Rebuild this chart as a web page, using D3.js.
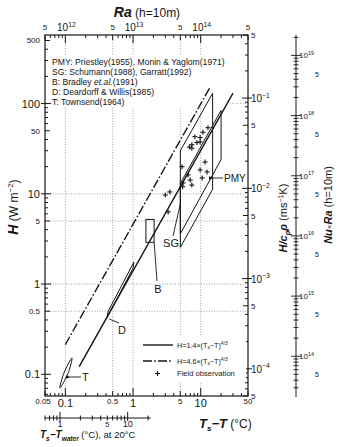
<!DOCTYPE html>
<html><head><meta charset="utf-8">
<script src="https://cdn.jsdelivr.net/npm/d3@7"></script>
<style>
html,body{margin:0;padding:0;background:#fff;}
svg{display:block;font-family:"Liberation Sans",Arial,Helvetica,sans-serif;}
</style></head><body>
<svg id="chart" width="350" height="447"></svg>
<script>
// ---- axis domains and conversions ----
const dTDomain = [0.05, 50];          // Ts - T (°C)
const hDomain = [0.0575, 575];        // H (W m^-2)
const rhoCp = 1150;                   // H / (cp rho)
const raPerK = 1e13;                  // Ra (h=10m) per °C
const nuRaCoef = 1.585e15;            // Nu×Ra = coef · H^1.5
const nuRaExp = 1.5;
const waterFactor = 12;               // Ts - Twater equivalent at 20°C

// ---- power-law lines H = c (Ts-T)^(4/3) ----
const lineCoefs = [1.4, 4.6];
const lineExp = 4 / 3;
const lineStart = [0.16, 0.1];
const lineEnd = [30, 14];

// ---- field observations ----
const obsDT = [12.8, 10.8, 9.8, 8.8, 7.4, 8.2, 7.4, 5.3, 9.8, 11.6, 12.4, 10.5, 6.5, 5.5, 7.4, 3.0, 3.5, 3.3, 7.0, 9.8, 6.8, 5.4];
const obsH  = [54, 48, 42, 37, 32, 43, 35, 20, 18.4, 22.5, 17.5, 15, 16.2, 13.2, 12.5, 9.7, 10.5, 6.3, 14.2, 37.6, 33, 12];

// ---- literature ranges ----
const pmyDT = [5, 20, 20, 5];
const pmyH  = [13, 84, 24, 3.6];
const sgDT  = [5, 15, 15, 5];
const sgH   = [30, 130, 11.2, 2.55];
const bDT   = [1.55, 2.05];
const bH    = [2.9, 5.2];
const dDT   = [0.41, 0.43, 1.03, 1.0];
const dH    = [0.42, 0.50, 1.75, 1.5];
const tDT   = [0.083, 0.096, 0.1255, 0.109];
const tH    = [0.0706, 0.105, 0.152, 0.1017];

// ---- grid and labels ----
const gridDT = [0.1, 0.5, 1, 5, 10];
const gridH = [0.5, 1, 5, 10, 100];
const hBigLabels = [0.1, 1, 10, 100];
const hSmallLabels = [0.5, 5, 50, 500];
const dTBigLabels = [0.1, 1, 10];
const dTSmallLabels = [0.05, 0.5, 5, 50];
const raExps = [12, 13, 14];
const raFives = [5e11, 5e12, 5e13, 5e14];
const fluxExps = [-1, -2, -3, -4];
const fluxFives = [5e-1, 5e-2, 5e-3, 5e-4, 5e-5];
const nuRaExps = [19, 18, 17, 16, 15, 14];
const nuRaFives = [5e18, 5e17, 5e16, 5e15, 5e14, 5e13];
const waterLabels = [1, 5, 10];
const waterDomain = [0.6, 22];
const citations = [
  "PMY: Priestley(1955), Monin & Yaglom(1971)",
  "SG: Schumann(1988), Garratt(1992)",
  "B: Bradley |et.al.|(1991)",
  "D: Deardorff & Willis(1985)",
  "T: Townsend(1964)"
];

const ink = "#161616";
const svg = d3.select("#chart");
const L = 45, R = 248, T = 35, B = 396;

const x = d3.scaleLog().domain(dTDomain).range([L, R]);
const y = d3.scaleLog().domain(hDomain).range([B, T]);
const xRa = d3.scaleLog().domain(dTDomain.map(d => d * raPerK)).range([L, R]);
const yFlux = d3.scaleLog().domain(hDomain.map(h => h / rhoCp)).range([B, T]);
const yNuRa = d3.scaleLog().domain(hDomain.map(h => nuRaCoef * Math.pow(h, nuRaExp))).range([B, T]);
const xWater = d3.scaleLog().domain(dTDomain.map(d => d * waterFactor)).range([L, R]);

const isDecade = v => Math.abs(Math.log10(v) - Math.round(Math.log10(v))) < 1e-6;
const isFive = v => Math.abs(v / Math.pow(10, Math.floor(Math.log10(v) + 1e-9)) - 5) < 1e-6;

const defs = svg.append("defs");
defs.append("marker").attr("id", "arr").attr("viewBox", "0 0 10 10").attr("refX", 1).attr("refY", 5)
  .attr("markerWidth", 5).attr("markerHeight", 5).attr("orient", "auto-start-reverse")
  .append("path").attr("d", "M10,1 L0,5 L10,9 Z").attr("fill", ink);

// ---- grid ----
const grid = svg.append("g").attr("stroke", "#8a8a8a").attr("stroke-width", 0.8).attr("stroke-dasharray", "1,1.6");
grid.selectAll(".gv").data(gridDT).join("line").attr("x1", d => x(d)).attr("x2", d => x(d)).attr("y1", T).attr("y2", B);
grid.selectAll(".gh").data(gridH).join("line").attr("y1", d => y(d)).attr("y2", d => y(d)).attr("x1", L).attr("x2", R);

// ---- citation block ----
svg.append("rect").attr("x", 50).attr("y", 55).attr("width", 180).attr("height", 52).attr("fill", "#fff");
const cit = svg.append("g").attr("font-size", 8.6).attr("fill", ink);
citations.forEach((c, i) => {
  const t = cit.append("text").attr("x", 52).attr("y", 64.5 + i * 10.2);
  c.split("|").forEach((seg, j) => t.append("tspan").attr("font-style", j % 2 ? "italic" : "normal").text(seg));
});

// ---- frame ----
svg.append("rect").attr("x", L).attr("y", T).attr("width", R - L).attr("height", B - T)
  .attr("fill", "none").attr("stroke", ink).attr("stroke-width", 1.2);

// ---- ticks ----
const tk = svg.append("g").attr("stroke", ink).attr("stroke-width", 1);
y.ticks().forEach(v => {
  const len = isDecade(v) ? 6 : isFive(v) ? 5 : 3;
  tk.append("line").attr("x1", isDecade(v) ? L - 4 : L).attr("x2", L + len).attr("y1", y(v)).attr("y2", y(v));
});
yFlux.ticks().forEach(v => {
  const len = isDecade(v) ? 6 : isFive(v) ? 5 : 3;
  tk.append("line").attr("x1", R - len).attr("x2", isDecade(v) ? R + 4 : R).attr("y1", yFlux(v)).attr("y2", yFlux(v));
});
x.ticks().forEach(v => {
  const len = isDecade(v) ? 8 : isFive(v) ? 5 : 3;
  tk.append("line").attr("x1", x(v)).attr("x2", x(v)).attr("y1", B).attr("y2", B - len);
});
xRa.ticks().forEach(v => {
  const len = isDecade(v) ? 8 : isFive(v) ? 5 : 3;
  tk.append("line").attr("x1", xRa(v)).attr("x2", xRa(v)).attr("y1", T).attr("y2", T + len);
});

// ---- tick labels ----
const lab = svg.append("g").attr("fill", ink);
hBigLabels.forEach(v => lab.append("text").attr("x", 40).attr("y", y(v) + 4).attr("text-anchor", "end").attr("font-size", 11).text(v));
hSmallLabels.forEach(v => lab.append("text").attr("x", 40).attr("y", y(v) + 3).attr("text-anchor", "end").attr("font-size", 8).text(v));
dTBigLabels.forEach(v => lab.append("text").attr("x", x(v)).attr("y", 407).attr("text-anchor", "middle").attr("font-size", 11).text(v));
dTSmallLabels.forEach(v => lab.append("text").attr("x", x(v) - (v === 0.05 ? 2 : 0)).attr("y", 404).attr("text-anchor", "middle").attr("font-size", 8).text(v));

function pow10(g, px, py, exp, size, anchor) {
  const t = g.append("text").attr("x", px).attr("y", py).attr("font-size", size).attr("text-anchor", anchor);
  t.append("tspan").text("10");
  t.append("tspan").attr("dy", -size * 0.45).attr("font-size", size * 0.68).text(String(exp).replace("-", "\u2212"));
  return t;
}
raExps.forEach(e => pow10(lab, xRa(Math.pow(10, e)) + 1, 31, e, 10, "middle"));
raFives.forEach(v => lab.append("text").attr("x", xRa(v)).attr("y", 30).attr("text-anchor", "middle").attr("font-size", 8).text("5"));
fluxExps.forEach(e => pow10(lab, 251, yFlux(Math.pow(10, e)) + 4, e, 10, "start"));
fluxFives.forEach(v => lab.append("text").attr("x", 251).attr("y", yFlux(v) + 3).attr("font-size", 8).text("5"));

// ---- Nu×Ra axis ----
const nx = 296;
const nu = svg.append("g");
nu.append("line").attr("x1", nx).attr("x2", nx).attr("y1", T).attr("y2", B + 1).attr("stroke", ink).attr("stroke-width", 1);
yNuRa.ticks().forEach(v => {
  const half = isDecade(v) ? 5 : 2.5;
  nu.append("line").attr("x1", nx - half).attr("x2", nx + half).attr("y1", yNuRa(v)).attr("y2", yNuRa(v))
    .attr("stroke", ink).attr("stroke-width", 0.9);
});
nuRaExps.forEach(e => pow10(nu.append("g").attr("fill", ink), 299, yNuRa(Math.pow(10, e)) + 3, e, 8, "start"));
nuRaFives.forEach(v => nu.append("text").attr("x", 315).attr("y", yNuRa(v) + 3).attr("font-size", 7).attr("fill", ink).text("5"));

// ---- secondary bottom axis (Ts - Twater) ----
const wy = 418;
const wa = svg.append("g").attr("stroke", ink).attr("stroke-width", 1);
wa.append("line").attr("x1", xWater(waterDomain[0])).attr("x2", xWater(waterDomain[1])).attr("y1", wy).attr("y2", wy);
d3.scaleLog().domain(waterDomain).ticks().forEach(v => {
  const big = isDecade(v);
  wa.append("line").attr("x1", xWater(v)).attr("x2", xWater(v)).attr("y1", wy - (big ? 6 : 2.5)).attr("y2", wy + (big ? 3 : 2.5));
});
waterLabels.forEach(v => lab.append("text").attr("x", xWater(v)).attr("y", 427).attr("text-anchor", "middle").attr("font-size", v === 5 ? 7 : 9).text(v));

// ---- literature ranges ----
const poly = d3.line().x(d => x(d[0])).y(d => y(d[1])).curve(d3.curveLinearClosed);
const shapes = svg.append("g").attr("fill", "none").attr("stroke", ink).attr("stroke-width", 1);
shapes.append("path").attr("d", poly(d3.zip(sgDT, sgH)));
shapes.append("path").attr("d", poly(d3.zip(pmyDT, pmyH)));
shapes.append("rect").attr("x", x(bDT[0])).attr("y", y(bH[1])).attr("width", x(bDT[1]) - x(bDT[0])).attr("height", y(bH[0]) - y(bH[1]));
shapes.append("path").attr("d", poly(d3.zip(dDT, dH)));
shapes.append("path").attr("d", d3.line().x(d => x(d[0])).y(d => y(d[1])).curve(d3.curveCatmullRomClosed.alpha(0.5))(d3.zip(tDT, tH)));

// ---- power-law lines ----
const lg = d3.line().x(d => x(d[0])).y(d => y(d[1]));
const styles = [null, "9,2.2,1.6,2.2"];
lineCoefs.forEach((c, i) => {
  const pts = [lineStart[i], lineEnd[i]].map(d => [d, c * Math.pow(d, lineExp)]);
  svg.append("path").attr("d", lg(pts)).attr("fill", "none").attr("stroke", ink).attr("stroke-width", 1.4)
    .attr("stroke-dasharray", styles[i]);
});

// ---- field observations ----
const ob = svg.append("g").attr("stroke", ink).attr("stroke-width", 1.1);
d3.zip(obsDT, obsH).forEach(([a, h]) => {
  const px = x(a), py = y(h);
  ob.append("line").attr("x1", px - 2.5).attr("x2", px + 2.5).attr("y1", py).attr("y2", py);
  ob.append("line").attr("x1", px).attr("x2", px).attr("y1", py - 2.5).attr("y2", py + 2.5);
});

// ---- range annotations ----
const an = svg.append("g").attr("fill", ink).attr("font-size", 11);
const ln = svg.append("g").attr("stroke", ink).attr("stroke-width", 0.9).attr("fill", "none");
ln.append("line").attr("x1", x(bDT[1])).attr("y1", y(bH[0])).attr("x2", 157).attr("y2", 281);
an.append("text").attr("x", 158).attr("y", 293).attr("text-anchor", "middle").text("B");
ln.append("line").attr("x1", x(dDT[1]) + 1).attr("y1", y(dH[0]) + 1).attr("x2", 119).attr("y2", 323);
an.append("text").attr("x", 122).attr("y", 334).attr("text-anchor", "middle").text("D");
ln.append("line").attr("x1", 173).attr("y1", 236).attr("x2", x(sgDT[0])).attr("y2", 204);
an.append("text").attr("x", 171).attr("y", 247).attr("text-anchor", "middle").text("SG");
ln.append("line").attr("x1", 223).attr("y1", 178).attr("x2", 213).attr("y2", 178).attr("marker-end", "url(#arr)");
an.append("text").attr("x", 224).attr("y", 181.5).attr("font-size", 10).text("PMY");
ln.append("line").attr("x1", 81).attr("y1", 377).attr("x2", 70).attr("y2", 377).attr("marker-end", "url(#arr)");
an.append("text").attr("x", 82).attr("y", 381).text("T");

// ---- legend ----
const lgd = svg.append("g");
lgd.append("rect").attr("x", 137).attr("y", 336).attr("width", 109).attr("height", 46).attr("fill", "#fff");
lgd.append("line").attr("x1", 143).attr("x2", 173).attr("y1", 345).attr("y2", 345).attr("stroke", ink).attr("stroke-width", 1.4);
lgd.append("line").attr("x1", 143).attr("x2", 173).attr("y1", 361).attr("y2", 361).attr("stroke", ink).attr("stroke-width", 1.4).attr("stroke-dasharray", styles[1]);
lgd.append("line").attr("x1", 155).attr("x2", 160).attr("y1", 373.5).attr("y2", 373.5).attr("stroke", ink).attr("stroke-width", 1.1);
lgd.append("line").attr("x1", 157.5).attr("x2", 157.5).attr("y1", 371).attr("y2", 376).attr("stroke", ink).attr("stroke-width", 1.1);
lineCoefs.forEach((c, i) => {
  const t = lgd.append("text").attr("x", 177).attr("y", 347.5 + i * 16).attr("font-size", 7.2).attr("fill", ink);
  t.append("tspan").text("H=" + c + "\u00d7(T");
  t.append("tspan").attr("dy", 1.5).attr("font-size", 5).text("s");
  t.append("tspan").attr("dy", -1.5).text("\u2212T)");
  t.append("tspan").attr("dy", -3).attr("font-size", 5).text("4/3");
});
lgd.append("text").attr("x", 177).attr("y", 376).attr("font-size", 7.6).attr("fill", ink).text("Field  observation");

// ---- axis titles ----
const ti = svg.append("g").attr("fill", ink);
{
  const t = ti.append("text").attr("x", 147).attr("y", 17).attr("text-anchor", "middle").attr("font-size", 12);
  t.append("tspan").attr("font-weight", "bold").attr("font-style", "italic").attr("font-size", 14).text("Ra");
  t.append("tspan").text("  (h=10m)");
}
{
  const t = ti.append("text").attr("x", 199).attr("y", 428).attr("font-size", 12);
  t.append("tspan").attr("font-weight", "bold").attr("font-style", "italic").attr("font-size", 13).text("T");
  t.append("tspan").attr("font-weight", "bold").attr("font-style", "italic").attr("font-size", 8).attr("dy", 3).text("s");
  t.append("tspan").attr("font-weight", "bold").attr("font-style", "italic").attr("font-size", 13).attr("dy", -3).text("\u2212T");
  t.append("tspan").text("  (\u00b0C)");
}
{
  const t = ti.append("text").attr("x", 40).attr("y", 438).attr("font-size", 9.5);
  t.append("tspan").attr("font-weight", "bold").attr("font-style", "italic").attr("font-size", 10).text("T");
  t.append("tspan").attr("font-weight", "bold").attr("font-style", "italic").attr("font-size", 6.5).attr("dy", 2.5).text("s");
  t.append("tspan").attr("font-weight", "bold").attr("font-style", "italic").attr("font-size", 10).attr("dy", -2.5).text("\u2212T");
  t.append("tspan").attr("font-weight", "bold").attr("font-style", "italic").attr("font-size", 6.5).attr("dy", 2.5).text("water");
  t.append("tspan").attr("dy", -2.5).text("  (\u00b0C),  at 20\u00b0C");
}
{
  const t = ti.append("text").attr("transform", "translate(18,207) rotate(-90)").attr("text-anchor", "middle").attr("font-size", 12);
  t.append("tspan").attr("font-weight", "bold").attr("font-style", "italic").attr("font-size", 14).text("H");
  t.append("tspan").text("  (W  m");
  t.append("tspan").attr("dy", -5).attr("font-size", 8).text("\u22122");
  t.append("tspan").attr("dy", 5).text(")");
}
{
  const t = ti.append("text").attr("transform", "translate(287,218) rotate(-90)").attr("text-anchor", "middle").attr("font-size", 11);
  t.append("tspan").attr("font-weight", "bold").attr("font-style", "italic").text("H/c");
  t.append("tspan").attr("font-weight", "bold").attr("font-style", "italic").attr("font-size", 7.5).attr("dy", 2.5).text("p");
  t.append("tspan").attr("font-weight", "bold").attr("font-style", "italic").attr("dy", -2.5).text("\u03c1");
  t.append("tspan").text("   (ms");
  t.append("tspan").attr("dy", -4.5).attr("font-size", 7).text("\u22121");
  t.append("tspan").attr("dy", 4.5).text("K)");
}
{
  const t = ti.append("text").attr("transform", "translate(332,205) rotate(-90)").attr("text-anchor", "middle").attr("font-size", 11);
  t.append("tspan").attr("font-weight", "bold").attr("font-style", "italic").text("Nu");
  t.append("tspan").attr("font-size", 8).text("\u00d7");
  t.append("tspan").attr("font-weight", "bold").attr("font-style", "italic").text("Ra");
  t.append("tspan").text("   (h=10m)");
}
</script>
</body></html>
